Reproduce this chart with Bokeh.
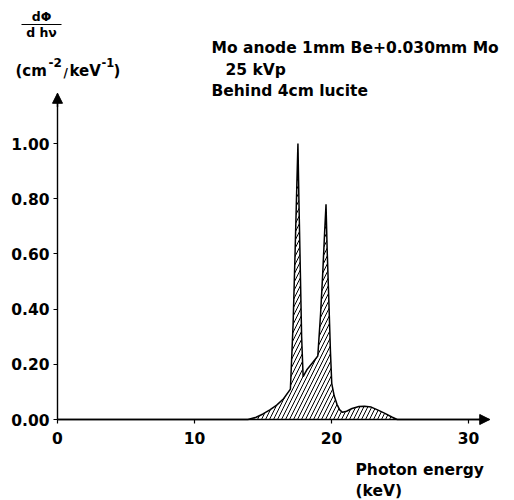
from bokeh.plotting import figure
from bokeh.models import Range1d, Label, Arrow, NormalHead, FixedTicker, LinearAxis
from bokeh.embed import file_html
from bokeh.resources import INLINE

# Spectrum: photon energy (keV) vs d(Phi)/d(hv) (relative)
energy = [0.0, 13.9, 14.5, 15.0, 15.5, 16.0, 16.5, 17.0, 17.2, 17.35, 17.47, 17.55,
          17.62, 17.72, 17.82, 17.93, 18.2, 18.6, 19.0, 19.2, 19.35, 19.5, 19.6,
          19.68, 19.8, 19.92, 20.02, 20.2, 20.4, 20.6, 20.8, 21.1, 21.5, 22.0,
          22.4, 22.9, 23.4, 23.9, 24.4, 24.8, 31.0]
flux = [0.0, 0.0, 0.008, 0.02, 0.035, 0.052, 0.075, 0.11, 0.35, 0.62, 0.85, 1.0,
        0.8, 0.55, 0.3, 0.155, 0.18, 0.205, 0.23, 0.38, 0.52, 0.68, 0.78,
        0.62, 0.44, 0.25, 0.13, 0.085, 0.055, 0.035, 0.026, 0.03, 0.04, 0.047,
        0.048, 0.045, 0.034, 0.022, 0.009, 0.0, 0.0]

x_ticks = [0, 10, 20, 30]
y_ticks = [0.0, 0.2, 0.4, 0.6, 0.8, 1.0]
y_tick_labels = {0.0: "0.00", 0.2: "0.20", 0.4: "0.40", 0.6: "0.60", 0.8: "0.80", 1.0: "1.00"}

W, H = 514, 500
X0, Y0 = 57, 419          # pixel of data origin
SX, SY = 13.7, 276.0      # pixels per keV / per unit
XMAX = 31.55
YMAX = 1.182

FONT = "DejaVu Sans"
FS = "15.5px"

p = figure(width=W, height=H, output_backend="svg", toolbar_location=None,
           x_range=Range1d(-X0 / SX, (W - X0) / SX),
           y_range=Range1d(-(H - Y0) / SY, Y0 / SY),
           min_border=0, x_axis_location=None, y_axis_location=None)
p.outline_line_color = None
p.xgrid.visible = False
p.ygrid.visible = False
p.background_fill_color = "white"
p.border_fill_color = "white"

xaxis = LinearAxis(fixed_location=0, bounds=(0, XMAX), ticker=FixedTicker(ticks=x_ticks))
yaxis = LinearAxis(fixed_location=0, bounds=(0, YMAX), ticker=FixedTicker(ticks=y_ticks),
                   major_label_overrides=y_tick_labels)
for ax in (xaxis, yaxis):
    ax.axis_line_color = "black"
    ax.axis_line_width = 1.4
    ax.major_tick_line_color = "black"
    ax.major_tick_line_width = 1.2
    ax.minor_tick_line_color = None
    ax.major_tick_in = 0
    ax.major_tick_out = 4
    ax.major_label_text_font = FONT
    ax.major_label_text_font_style = "bold"
    ax.major_label_text_font_size = FS
    ax.major_label_text_color = "black"
xaxis.major_label_standoff = 8
yaxis.major_label_standoff = 4
p.add_layout(yaxis, "left")
p.add_layout(xaxis, "below")

p.varea(x=energy, y1=[0.0] * len(energy), y2=flux, fill_color="white",
        hatch_pattern="/", hatch_color="black", hatch_weight=1.0, hatch_scale=8)
p.line(energy, flux, line_color="black", line_width=1.5)

# axis arrows
p.add_layout(Arrow(x_start=XMAX - 0.8, y_start=0, x_end=XMAX, y_end=0,
                   line_color="black", line_width=1.4,
                   end=NormalHead(size=10, fill_color="black", line_color="black")))
p.add_layout(Arrow(x_start=0, y_start=YMAX - 0.05, x_end=0, y_end=YMAX,
                   line_color="black", line_width=1.4,
                   end=NormalHead(size=10, fill_color="black", line_color="black")))


def lab(text, px, py, size=FS, align="left"):
    p.add_layout(Label(x=px, y=H - py, x_units="screen", y_units="screen",
                       text=text, text_font=FONT, text_font_style="bold",
                       text_font_size=size, text_color="black",
                       text_align=align, text_baseline="middle"))


# y-axis title (fraction)
lab("d\u03a6", 41, 16, size="12.5px", align="center")
p.line(x=[(21 - X0) / SX, (61 - X0) / SX], y=[(Y0 - 24) / SY] * 2,
       line_color="black", line_width=1.2)
lab("d h\u03bd", 41, 32, size="12.5px", align="center")

lab("(cm", 15, 70, size="15px")
lab("-2", 48, 62, size="12px")
lab("/", 63, 72, size="12px")
lab("keV", 69, 70, size="15px")
lab("-1", 101, 62, size="11.5px")
lab(")", 113, 70, size="15px")

# annotation text
lab("Mo anode 1mm Be+0.030mm Mo", 211, 47)
lab("25 kVp", 225, 69)
lab("Behind 4cm lucite", 211, 90)

# x-axis title
lab("Photon energy", 355, 469)
lab("(keV)", 355, 490)

open("out.html", "w").write(file_html(p, INLINE))
